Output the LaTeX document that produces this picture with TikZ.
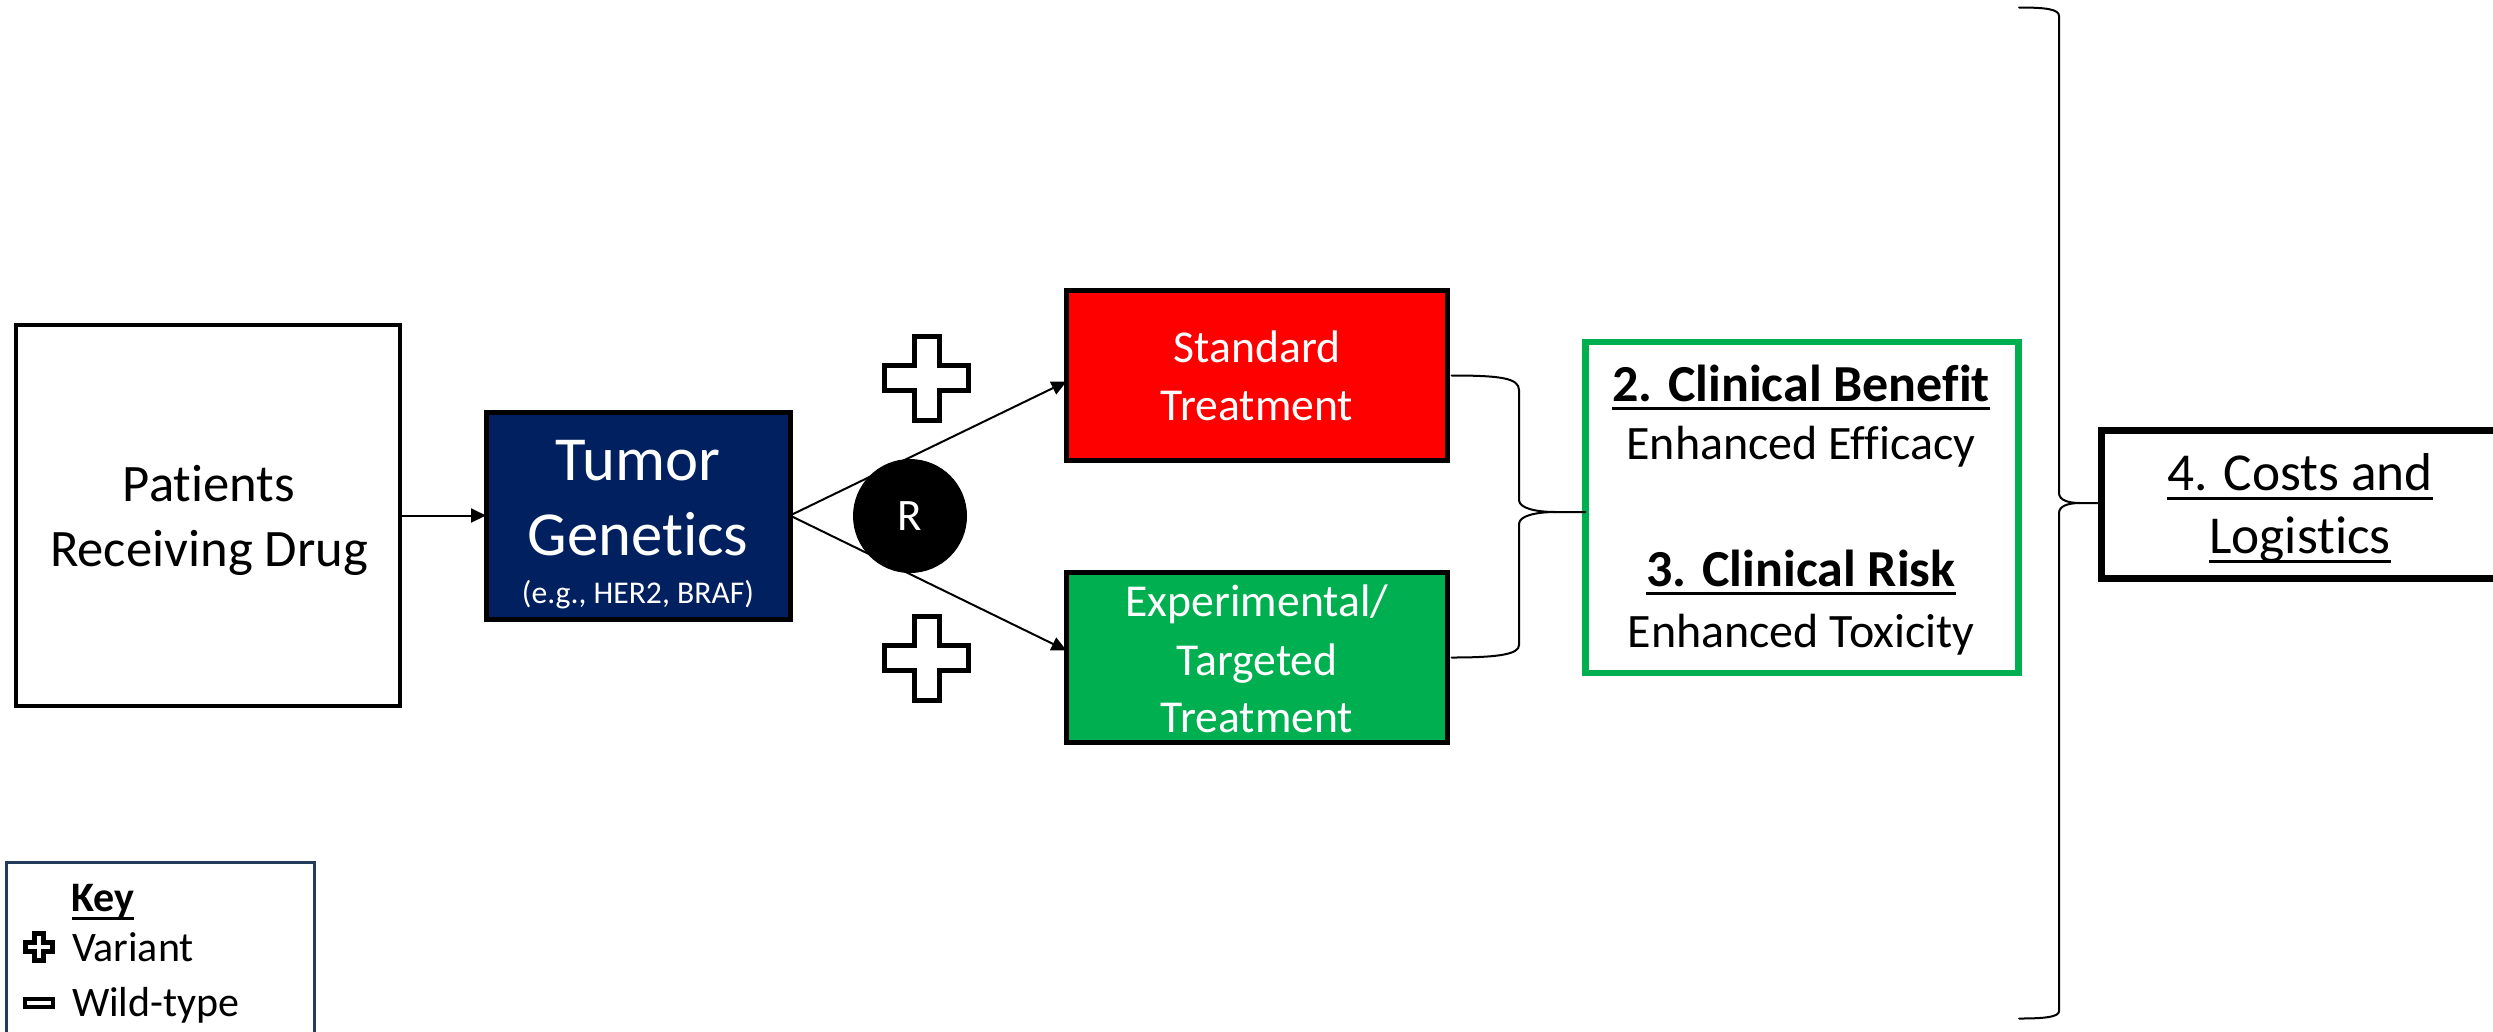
\documentclass[tikz,border=0pt]{standalone}
\usepackage{fontspec}
\setmainfont{Carlito}[Ligatures={NoCommon,NoContextual}]
\usetikzlibrary{arrows.meta,calc}

\definecolor{navy}{HTML}{002060}
\definecolor{stdred}{HTML}{FF0000}
\definecolor{expgreen}{HTML}{00B050}
\definecolor{keyframe}{HTML}{243B5C}

% font size helper (single-line labels)
\newcommand\fs[1]{\fontsize{#1}{#1}\selectfont}
% word underline at a fixed depth: #1 = depth of rule bottom, #2 = rule thickness
\newcommand\ulword[3]{\setbox0=\hbox{#3}\rlap{\rule[-#1]{\wd0}{#2}}\box0}
% outlined plus sign: #1 centre, #2 half extent, #3 half arm width, #4 line width
\newcommand\plusmark[4]{%
  \draw[draw=black, fill=white, line width=#4, line join=miter]
    (#1) ++(-#3,-#2) -- ++(2*#3,0) -- ++(0,#2-#3) -- ++(#2-#3,0) -- ++(0,2*#3)
    -- ++(-#2+#3,0) -- ++(0,#2-#3) -- ++(-2*#3,0) -- ++(0,-#2+#3)
    -- ++(-#2+#3,0) -- ++(0,-2*#3) -- ++(#2-#3,0) -- cycle;}

\begin{document}
\begin{tikzpicture}[x=0.3pt, y=-0.3pt,
  box/.style={draw=black, line width=1.5pt, inner sep=0pt, outer sep=0pt},
  txt/.style={inner sep=0pt, outer sep=0pt, anchor=base},
  conn/.style={line width=0.6pt, -{Triangle[length=4.5pt,width=4.2pt]}},
  brace/.style={line width=0.6pt, line cap=round}]

\useasboundingbox (0,0) rectangle (2493,1031);
\clip (0,0) rectangle (2493,1031);

% main boxes
\node[box, line width=1.2pt, minimum width=115.2pt, minimum height=114.3pt] (pat) at (208,515.5) {};
\node[box, fill=navy, minimum width=91.2pt, minimum height=62.1pt] (tum) at (638,515.5) {};
\node[box, fill=stdred, minimum width=114.3pt, minimum height=51pt] (std) at (1257,375.5) {};
\node[box, fill=expgreen, minimum width=114.3pt, minimum height=51pt] (exp) at (1257,657.5) {};
\node[box, draw=expgreen, line width=1.95pt, minimum width=130pt, minimum height=99.2pt] (clin) at (1802,507.5) {};
\node[box, line width=2.1pt, minimum width=137.55pt, minimum height=44.4pt] (cost) at (2330.75,504.5) {};
\node[box, draw=keyframe, line width=0.9pt, minimum width=92.25pt, minimum height=59.4pt] (key) at (160.25,961) {};

% connectors
\draw[conn] (pat.east) -- (tum.west);
\draw[conn] (tum.east) -- ([yshift=-1.8pt]std.west);
\draw[conn] (tum.east) -- ([yshift=2.1pt]exp.west);

% randomisation node
\node[circle, fill=black, minimum size=34.2pt, inner sep=0pt, text=white, font=\fs{13.5}] (rnd) at (910,516) {R};

% variant marks on both arms
\coordinate (plusA) at (926.5,378);
\coordinate (plusB) at (926.5,658);
\plusmark{plusA}{42}{12.5}{1.5pt}
\plusmark{plusB}{42}{12.5}{1.5pt}

% brace joining both treatment arms to the clinical outcomes
\coordinate (tipS) at (1556,512);
\draw[brace] ($(std.east)+(4,0)$) .. controls (1500,375.5) and (1519,378) .. (1519,390)
  -- (1519,500) .. controls (1519,508) and (1535,512) .. (tipS) -- (clin.west |- tipS);
\draw[brace] (tipS) .. controls (1535,512) and (1519,516) .. (1519,524)
  -- (1519,645) .. controls (1519,654) and (1500,657.5) .. ($(exp.east)+(4,0)$);

% large brace over the whole trial, pointing to costs
\coordinate (bt) at (2019,7.5);
\coordinate (bb) at (2019,1018.5);
\coordinate (tipB) at (2080,503);
\draw[brace] (bt) .. controls (2045,7.5) and (2059,9) .. (2059,16)
  -- (2059,493) .. controls (2059,500) and (2068,503) .. (tipB) -- (cost.west |- tipB);
\draw[brace] (tipB) .. controls (2068,503) and (2059,506) .. (2059,513)
  -- (2059,1011) .. controls (2059,1017) and (2045,1018.5) .. (bb);

% box texts
\node[txt, font=\fs{15.8}] (patA) at (209,501) {Patients};
\node[txt, font=\fs{15.8}] (patB) at (209,566) {Receiving Drug};

\node[txt, text=white, font=\fs{18.8}] (tumA) at (638,480) {Tumor};
\node[txt, text=white, font=\fs{18.8}] (tumB) at (638,555) {Genetics};
\node[txt, text=white, font=\fs{9.5}] (tumC) at (638,603) {(e.g., HER2, BRAF)};

\node[txt, text=white, font=\fs{13.7}] (stdA) at (1257,362) {Standard};
\node[txt, text=white, font=\fs{13.7}] (stdB) at (1257,420) {Treatment};

\node[txt, text=white, font=\fs{13.7}] (expA) at (1257,616) {Experimental/};
\node[txt, text=white, font=\fs{13.7}] (expB) at (1257,675) {Targeted};
\node[txt, text=white, font=\fs{13.7}] (expC) at (1257,732) {Treatment};

\node[txt, font=\fs{15.6}] (clinA) at (1801,401) {\ulword{2.75pt}{0.9pt}{\bfseries 2. Clinical Benefit}};
\node[txt, font=\fs{14.4}] (clinB) at (1801,459) {Enhanced Efficacy};
\node[txt, font=\fs{15.6}] (clinC) at (1801,586) {\ulword{2.75pt}{0.9pt}{\bfseries 3. Clinical Risk}};
\node[txt, font=\fs{14.4}] (clinD) at (1801,647) {Enhanced Toxicity};

\node[txt, font=\fs{16}] (costA) at (2300,490) {\ulword{3pt}{1pt}{4. Costs and}};
\node[txt, font=\fs{16}] (costB) at (2300,553) {\ulword{3pt}{1pt}{Logistics}};

% key
\node[txt, font=\fs{12.6}] (keyT) at (103,911) {\ulword{2.6pt}{0.8pt}{\bfseries Key}};
\coordinate (keyPlus) at (39,947);
\plusmark{keyPlus}{13.5}{4.5}{1.3pt}
\node[txt, anchor=base west, font=\fs{12.6}] (keyV) at (72,961) {Variant};
\draw[draw=black, fill=white, line width=1.4pt] (25,999) rectangle (53,1007);
\node[txt, anchor=base west, font=\fs{12.6}] (keyW) at (72,1016) {Wild-type};

\end{tikzpicture}
\end{document}
